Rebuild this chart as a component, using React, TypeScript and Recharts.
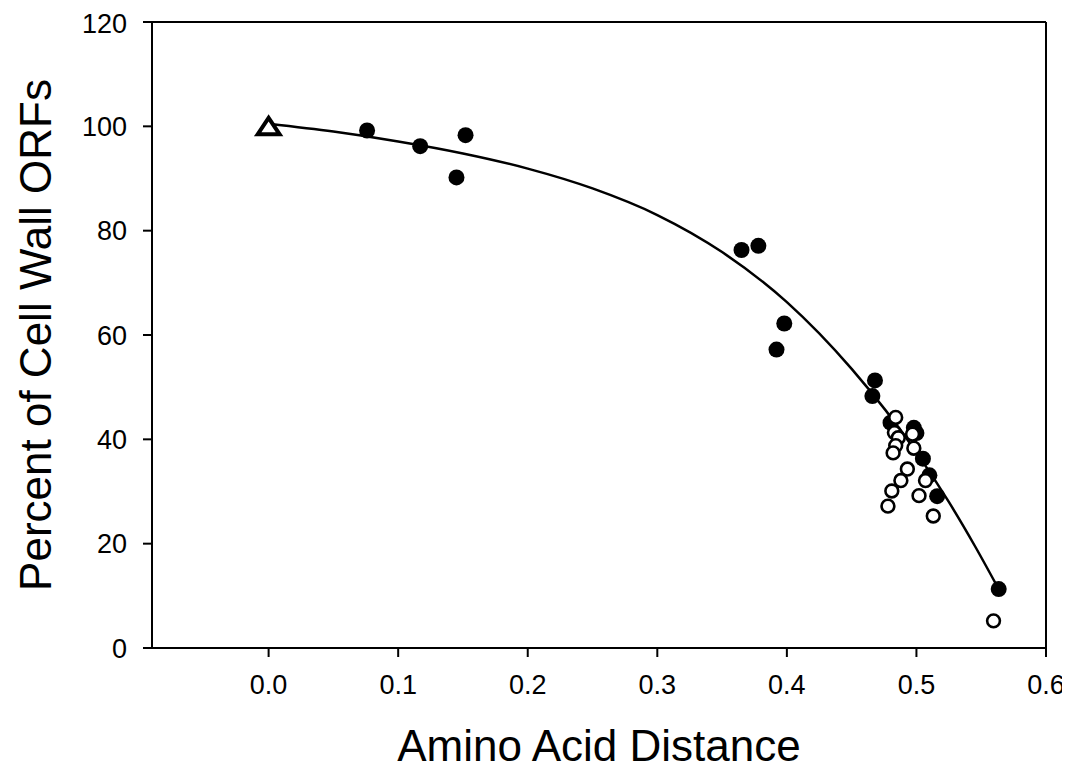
import React from "react";
import {
  ComposedChart, Scatter, Line, XAxis, YAxis, ReferenceLine,
} from "recharts";

// measured points (amino acid distance vs % cell wall ORFs)
const FILLED = [
  { x: 0.076, y: 99.2 }, { x: 0.117, y: 96.2 }, { x: 0.145, y: 90.2 },
  { x: 0.152, y: 98.3 }, { x: 0.365, y: 76.3 }, { x: 0.378, y: 77.1 },
  { x: 0.398, y: 62.2 }, { x: 0.392, y: 57.2 }, { x: 0.468, y: 51.3 },
  { x: 0.466, y: 48.3 }, { x: 0.480, y: 43.2 }, { x: 0.498, y: 42.2 },
  { x: 0.500, y: 41.2 }, { x: 0.505, y: 36.3 }, { x: 0.510, y: 33.1 },
  { x: 0.516, y: 29.1 }, { x: 0.5635, y: 11.3 },
];

const OPEN = [
  { x: 0.484, y: 44.2 }, { x: 0.483, y: 41.3 }, { x: 0.486, y: 40.3 },
  { x: 0.497, y: 41.0 }, { x: 0.484, y: 38.8 }, { x: 0.482, y: 37.4 },
  { x: 0.498, y: 38.3 }, { x: 0.493, y: 34.3 }, { x: 0.488, y: 32.1 },
  { x: 0.481, y: 30.1 }, { x: 0.478, y: 27.2 }, { x: 0.507, y: 32.1 },
  { x: 0.502, y: 29.2 }, { x: 0.513, y: 25.3 }, { x: 0.5595, y: 5.2 },
];

const ORIGIN = [{ x: 0, y: 100 }];

// fitted curve
const FIT = [
  { x: 0.0, y: 100.5 }, { x: 0.05, y: 99.0 }, { x: 0.1, y: 97.1 },
  { x: 0.15, y: 94.8 }, { x: 0.2, y: 91.9 }, { x: 0.25, y: 88.1 },
  { x: 0.3, y: 83.0 }, { x: 0.35, y: 75.9 }, { x: 0.4, y: 66.3 },
  { x: 0.45, y: 53.5 }, { x: 0.5, y: 37.5 }, { x: 0.525, y: 28.0 },
  { x: 0.545, y: 19.6 }, { x: 0.5615, y: 12.2 },
];

const X_TICKS = [0, 0.1, 0.2, 0.3, 0.4, 0.5, 0.6];
const Y_TICKS = [0, 20, 40, 60, 80, 100, 120];

const FONT = "'Liberation Sans', Arial, sans-serif";

const Dot = (p: any) => <circle cx={p.cx} cy={p.cy} r={8} fill="#000" />;
const Ring = (p: any) => (
  <circle cx={p.cx} cy={p.cy} r={6.4} fill="#fff" stroke="#000" strokeWidth={2.6} />
);
const Tri = (p: any) => (
  <path
    d={`M${p.cx},${p.cy - 8.5} L${p.cx + 11},${p.cy + 8} L${p.cx - 11},${p.cy + 8} Z`}
    fill="#fff" stroke="#000" strokeWidth={4} strokeLinejoin="miter"
  />
);

export default function App() {
  const axisProps = {
    axisLine: { stroke: "#000", strokeWidth: 2 },
    tickLine: { stroke: "#000", strokeWidth: 2 },
    tickSize: 9,
    tick: { fill: "#000", fontSize: 27, fontFamily: FONT },
  };
  return (
    <div style={{ width: 1062, height: 765, fontFamily: FONT }}>
      <ComposedChart
        width={1062}
        height={765}
        margin={{ top: 14, right: 24, bottom: 0, left: 0 }}
      >
        <XAxis
          type="number"
          dataKey="x"
          domain={[-0.09, 0.6]}
          ticks={X_TICKS}
          allowDataOverflow
          tickFormatter={(v: number) => v.toFixed(1)}
          tickMargin={18}
          height={125}
          {...axisProps}
          label={{
            content: ({ viewBox }: any) => (
              <text
                x={viewBox.x + viewBox.width / 2}
                y={737}
                textAnchor="middle"
                dominantBaseline="central"
                fontSize={44}
                fontFamily={FONT}
                fill="#000"
              >
                Amino Acid Distance
              </text>
            ),
          }}
        />
        <YAxis
          type="number"
          dataKey="y"
          domain={[0, 120]}
          ticks={Y_TICKS}
          width={144}
          tickMargin={16}
          {...axisProps}
          label={{
            content: ({ viewBox }: any) => {
              const cx = 27;
              const cy = viewBox.y + viewBox.height / 2;
              return (
                <text
                  x={cx}
                  y={cy}
                  transform={`rotate(-90, ${cx}, ${cy})`}
                  textAnchor="middle"
                  dominantBaseline="central"
                  fontSize={44}
                  fontFamily={FONT}
                  fill="#000"
                >
                  Percent of Cell Wall ORFs
                </text>
              );
            },
          }}
        />
        <ReferenceLine y={120} stroke="#000" strokeWidth={2} />
        <ReferenceLine x={0.6} stroke="#000" strokeWidth={2} />
        <Line
          data={FIT}
          dataKey="y"
          type="monotone"
          stroke="#000"
          strokeWidth={2.5}
          dot={false}
          activeDot={false}
          isAnimationActive={false}
        />
        <Scatter data={FILLED} shape={Dot} isAnimationActive={false} />
        <Scatter data={OPEN} shape={Ring} isAnimationActive={false} />
        <Scatter data={ORIGIN} shape={Tri} isAnimationActive={false} />
      </ComposedChart>
    </div>
  );
}
